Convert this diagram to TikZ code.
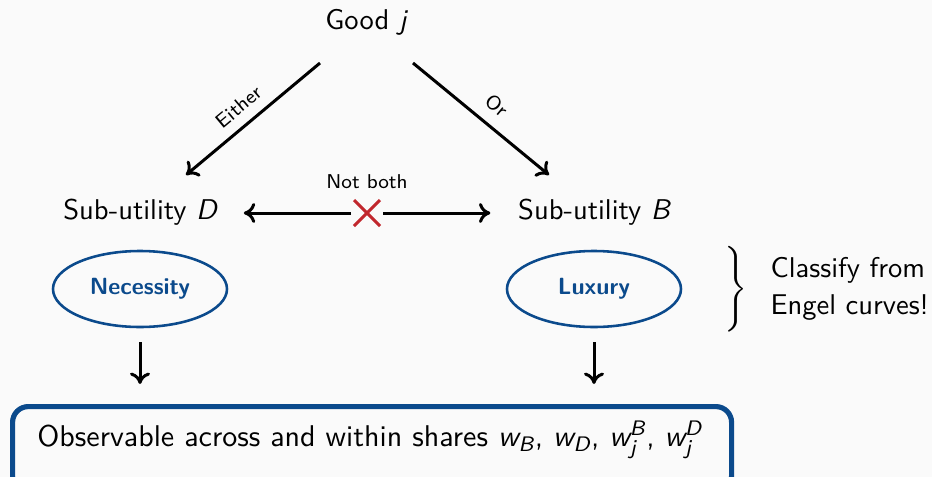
\documentclass[tikz,border=0pt]{standalone}
\usepackage{amsmath}
\usetikzlibrary{arrows.meta,shapes.geometric}
\definecolor{bgc}{HTML}{FAFAFA}
\definecolor{dblue}{HTML}{0B4A8C}
\definecolor{xred}{HTML}{C1272D}
\newcommand{\sv}[1]{\text{\sffamily\slshape #1}}
\begin{document}
\begin{tikzpicture}[x=0.35pt,y=-0.35pt,
  every node/.style={font=\sffamily},
  lbl/.style={font=\sffamily\fontsize{10}{12}\selectfont, inner sep=0pt},
  small/.style={font=\sffamily\fontsize{7}{8}\selectfont, inner sep=1pt},
  arr/.style={line width=1.05pt,-{To[length=4pt,width=7pt]}},
  oval/.style={ellipse, draw=dblue, line width=0.9pt, minimum width=174*0.35pt, minimum height=76*0.35pt, inner sep=0pt, text=dblue, font=\sffamily\bfseries\fontsize{8.2}{10}\selectfont},
  xmark/.style={xred, line width=1pt}]
\fill[bgc] (0,0) rectangle (932,477);
\useasboundingbox (0,0) rectangle (932,477);

\node[lbl] (good) at (366,22) {Good $\sv{j}$};
\coordinate (gl) at (320,63);
\coordinate (gr) at (413,63);
\coordinate (dl) at (186,175);
\coordinate (br) at (549,175);
\draw[arr] (gl) -- node[small, sloped, above=2.5pt, pos=0.52] {Either} (dl);
\draw[arr] (gr) -- node[small, sloped, above=3pt, pos=0.52] {Or} (br);

\node[lbl] (subD) at (140,212) {Sub-utility $\sv{D}$};
\node[lbl] (subB) at (594,212) {Sub-utility $\sv{B}$};

\coordinate (xc) at (367,213);
\coordinate (xl) at (351,213);
\coordinate (xr) at (383,213);
\draw[arr, shorten >=9.3pt] (xl) -- (subD.east |- xl);
\draw[arr, shorten >=9.5pt] (xr) -- (subB.west |- xr);
\draw[xmark] ([shift={(-13,-13)}]xc) -- ([shift={(13,13)}]xc);
\draw[xmark] ([shift={(-13,13)}]xc) -- ([shift={(13,-13)}]xc);
\node[small] (nb) at (367,182) {Not both};

\node[oval] (nec) at (140,289) {Necessity};
\node[oval] (lux) at (594,289) {Luxury};

\node[inner sep=0pt] (brace) at (734,289) {$\left.\vcenter{\hbox{\rule{0pt}{28pt}}}\right\}$};
\node[lbl, align=left, anchor=west] (cls) at (770,289) {Classify from\\[1pt]Engel curves!};

\node[draw=dblue, line width=1.8pt, rounded corners=5.5pt, minimum width=719*0.35pt, minimum height=85*0.35pt, inner sep=0pt, anchor=north west] (obs) at (10,404) {};
\node[lbl, font=\sffamily\fontsize{10.5}{12}\selectfont] (obstxt) at (370,440) {Observable across and within shares $\sv{w}_{\sv{B}}$, $\sv{w}_{\sv{D}}$, $\sv{w}_{\sv{j}}^{\sv{B}}$, $\sv{w}_{\sv{j}}^{\sv{D}}$};

\coordinate (na) at (140,342);
\coordinate (nbt) at (140,384);
\coordinate (la) at (594,342);
\coordinate (lbt) at (594,384);
\draw[arr] (na) -- (nbt);
\draw[arr] (la) -- (lbt);
\end{tikzpicture}
\end{document}
